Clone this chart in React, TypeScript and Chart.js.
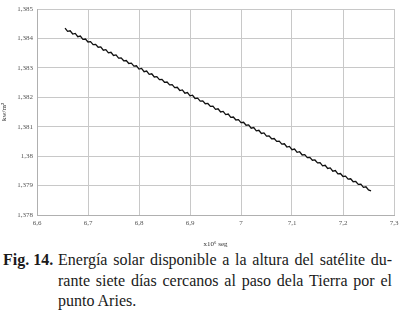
import React, { useEffect, useRef } from "react";
import { Chart, registerables } from "chart.js";

Chart.register(...registerables);

const timeValues = [
  6.655, 6.66, 6.665, 6.67, 6.675, 6.68, 6.685, 6.69, 6.695, 6.7,
  6.705, 6.71, 6.715, 6.72, 6.725, 6.73, 6.735, 6.74, 6.745, 6.75,
  6.755, 6.76, 6.765, 6.77, 6.775, 6.78, 6.785, 6.79, 6.795, 6.8,
  6.805, 6.81, 6.815, 6.82, 6.825, 6.83, 6.835, 6.84, 6.845, 6.85,
  6.855, 6.86, 6.865, 6.87, 6.875, 6.88, 6.885, 6.89, 6.895, 6.9,
  6.905, 6.91, 6.915, 6.92, 6.925, 6.93, 6.935, 6.94, 6.945, 6.95,
  6.955, 6.96, 6.965, 6.97, 6.975, 6.98, 6.985, 6.99, 6.995, 7.0,
  7.005, 7.01, 7.015, 7.02, 7.025, 7.03, 7.035, 7.04, 7.045, 7.05,
  7.055, 7.06, 7.065, 7.07, 7.075, 7.08, 7.085, 7.09, 7.095, 7.1,
  7.105, 7.11, 7.115, 7.12, 7.125, 7.13, 7.135, 7.14, 7.145, 7.15,
  7.155, 7.16, 7.165, 7.17, 7.175, 7.18, 7.185, 7.19, 7.195, 7.2,
  7.205, 7.21, 7.215, 7.22, 7.225, 7.23, 7.235, 7.24, 7.245, 7.25,
  7.255,
];

const energyValues = [
  1.38435, 1.38424, 1.38426, 1.38415, 1.38417, 1.38406, 1.38408, 1.38397, 1.38398, 1.38388,
  1.38389, 1.38379, 1.3838, 1.3837, 1.38371, 1.3836, 1.38362, 1.38351, 1.38353, 1.38342,
  1.38344, 1.38333, 1.38334, 1.38324, 1.38325, 1.38315, 1.38316, 1.38306, 1.38307, 1.38296,
  1.38298, 1.38287, 1.38289, 1.38278, 1.3828, 1.38269, 1.3827, 1.3826, 1.38261, 1.38251,
  1.38252, 1.38242, 1.38243, 1.38233, 1.38234, 1.38223, 1.38225, 1.38214, 1.38216, 1.38205,
  1.38207, 1.38196, 1.38197, 1.38187, 1.38188, 1.38178, 1.38179, 1.38169, 1.3817, 1.38159,
  1.38161, 1.3815, 1.38152, 1.38141, 1.38143, 1.38132, 1.38133, 1.38123, 1.38124, 1.38114,
  1.38115, 1.38105, 1.38106, 1.38095, 1.38097, 1.38086, 1.38088, 1.38077, 1.38079, 1.38068,
  1.38069, 1.38059, 1.3806, 1.3805, 1.38051, 1.38041, 1.38042, 1.38031, 1.38033, 1.38022,
  1.38024, 1.38013, 1.38015, 1.38004, 1.38005, 1.37995, 1.37996, 1.37986, 1.37987, 1.37977,
  1.37978, 1.37967, 1.37969, 1.37958, 1.3796, 1.37949, 1.37951, 1.3794, 1.37941, 1.37931,
  1.37932, 1.37922, 1.37923, 1.37913, 1.37914, 1.37904, 1.37905, 1.37894, 1.37896, 1.37885,
  1.37882,
];

const xTickValues = [6.6, 6.7, 6.8, 6.9, 7.0, 7.1, 7.2, 7.3];
const xTickLabels = ["6,6", "6,7", "6,8", "6,9", "7", "7,1", "7,2", "7,3"];
const yTickValues = [1.378, 1.379, 1.38, 1.381, 1.382, 1.383, 1.384, 1.385];
const yTickLabels = ["1,378", "1,379", "1,38", "1,381", "1,382", "1,383", "1,384", "1,385"];

const xTitle = "x10\u2076 seg";
const yTitle = "kw/m\u00b2";
const captionLabel = "Fig. 14.";
const captionLines = [
  "Energía solar disponible a la altura del satélite du-",
  "rante siete días cercanos al paso dela Tierra por el",
  "punto Aries.",
];

const SERIF = "'Liberation Serif', Tinos, 'Times New Roman', 'DejaVu Serif', serif";

export default function App() {
  const canvasRef = useRef<HTMLCanvasElement | null>(null);

  useEffect(() => {
    const canvas = canvasRef.current;
    if (!canvas) return;
    const tickFont = { family: SERIF, size: 7 };
    const chart = new Chart(canvas, {
      type: "line",
      data: {
        datasets: [
          {
            data: timeValues.map((t, i) => ({ x: t, y: energyValues[i] })),
            borderColor: "#111111",
            borderWidth: 1.3,
            pointRadius: 0,
            tension: 0,
            fill: false,
          },
        ],
      },
      options: {
        animation: false,
        responsive: false,
        maintainAspectRatio: false,
        layout: { padding: { top: 9, right: 11, left: 0, bottom: 0 } },
        plugins: { legend: { display: false }, tooltip: { enabled: false } },
        scales: {
          x: {
            type: "linear",
            min: 6.6,
            max: 7.3,
            afterBuildTicks: (scale: any) => {
              scale.ticks = xTickValues.map((v) => ({ value: v }));
            },
            afterFit: (scale: any) => {
              scale.height = 33;
            },
            ticks: {
              autoSkip: false,
              maxRotation: 0,
              color: "#555555",
              font: tickFont,
              padding: 4,
              callback: (_v: any, i: number) => xTickLabels[i],
            },
            grid: { color: "#c8c8c8", lineWidth: 1, drawTicks: false },
            border: { color: "#b0b0b0" },
            title: {
              display: true,
              text: xTitle,
              color: "#333333",
              font: { family: SERIF, size: 7 },
              padding: { top: 6, bottom: 0 },
            },
          },
          y: {
            type: "linear",
            min: 1.378,
            max: 1.385,
            afterBuildTicks: (scale: any) => {
              scale.ticks = yTickValues.map((v) => ({ value: v }));
            },
            afterFit: (scale: any) => {
              scale.width = 37;
            },
            ticks: {
              autoSkip: false,
              color: "#555555",
              font: tickFont,
              padding: 4,
              callback: (_v: any, i: number) => yTickLabels[i],
            },
            grid: { color: "#c8c8c8", lineWidth: 1, drawTicks: false },
            border: { color: "#b0b0b0" },
            title: {
              display: true,
              text: yTitle,
              color: "#333333",
              font: { family: SERIF, size: 7 },
              padding: { top: 0, bottom: 0 },
            },
          },
        },
      },
    });
    return () => chart.destroy();
  }, []);

  return (
    <div
      style={{
        position: "fixed",
        left: 0,
        top: 0,
        width: 405,
        height: 310,
        background: "#ffffff",
        overflow: "hidden",
      }}
    >
      <div style={{ position: "absolute", left: 0, top: 0, width: 405, height: 248 }}>
        <canvas ref={canvasRef} width={405} height={248} style={{ width: 405, height: 248 }} />
      </div>
      <div
        style={{
          position: "absolute",
          left: 3,
          top: 250,
          width: 389,
          display: "flex",
          fontFamily: SERIF,
          fontSize: 16,
          lineHeight: "20.5px",
          color: "#1a1a1a",
        }}
      >
        <div style={{ width: 55, flex: "0 0 55px", fontWeight: "bold", whiteSpace: "nowrap" }}>
          {captionLabel}
        </div>
        <div style={{ width: 334, flex: "0 0 334px" }}>
          {captionLines.map((line, i) => (
            <div
              key={i}
              style={{
                whiteSpace: i < captionLines.length - 1 ? "normal" : "nowrap",
                textAlign: i < captionLines.length - 1 ? "justify" : "left",
                textAlignLast: i < captionLines.length - 1 ? "justify" : "left",
              }}
            >
              {line}
            </div>
          ))}
        </div>
      </div>
    </div>
  );
}
